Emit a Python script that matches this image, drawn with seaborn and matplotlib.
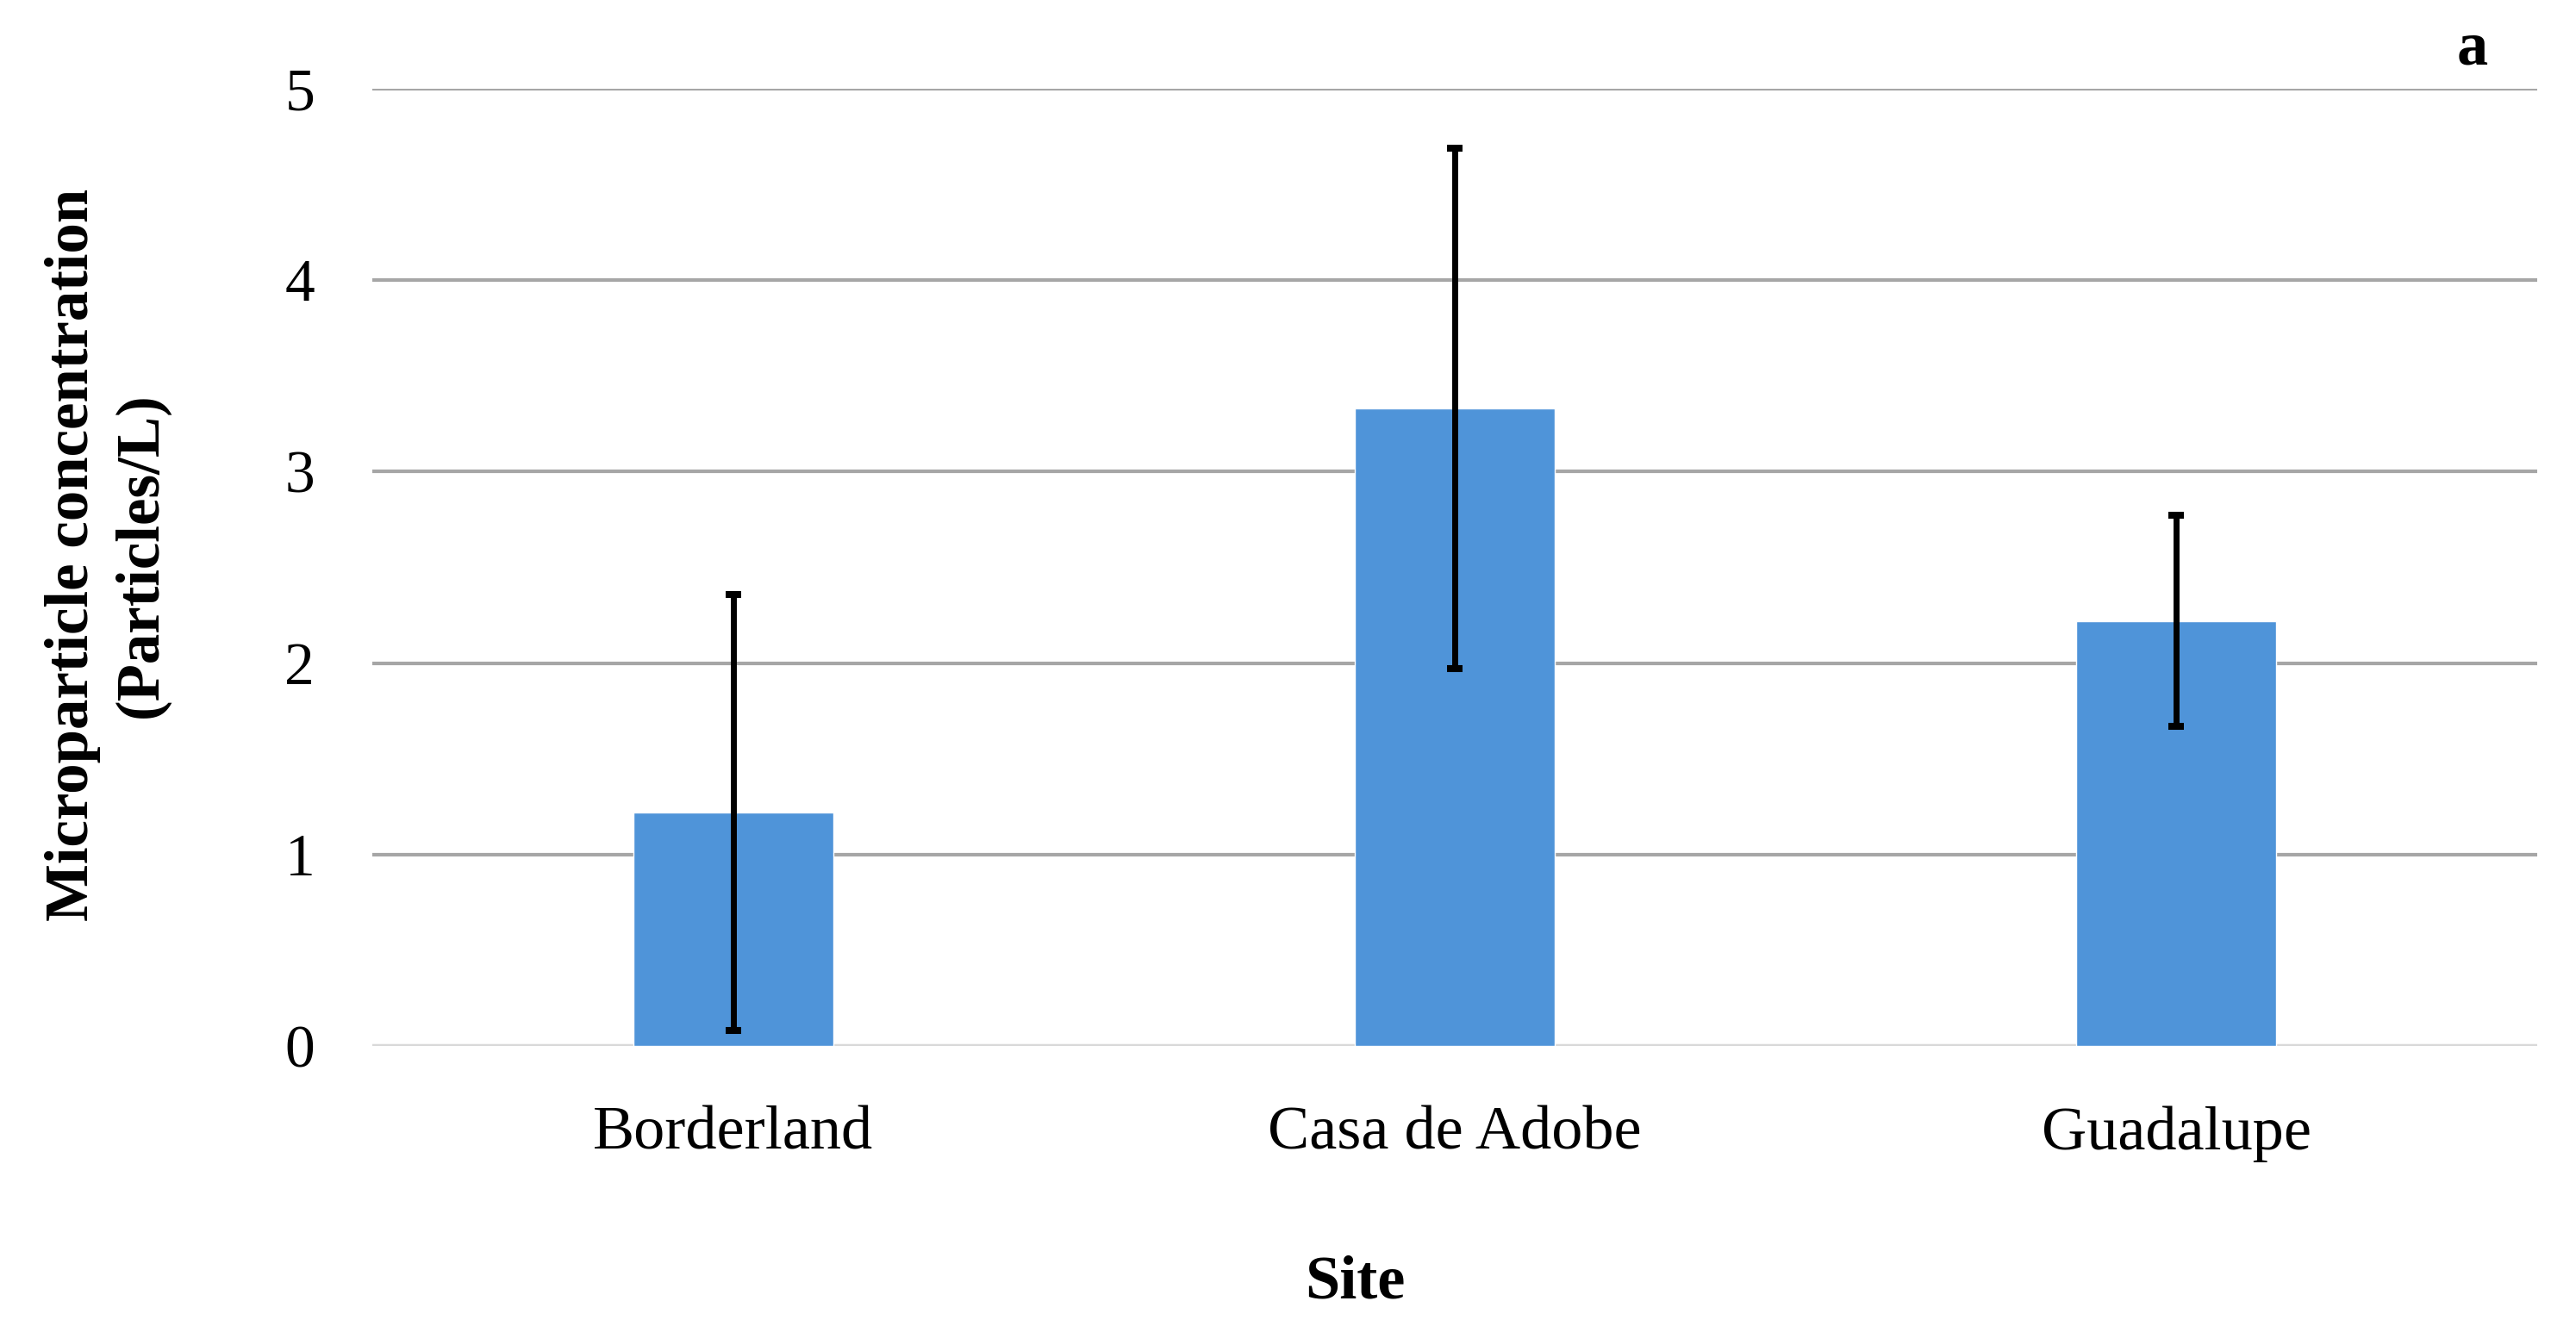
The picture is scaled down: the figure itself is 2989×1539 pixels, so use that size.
import matplotlib
matplotlib.use("Agg")
import matplotlib.pyplot as plt
import seaborn as sns
import pandas as pd

sns.set_theme(style="whitegrid")
plt.rcParams["font.family"] = ["Liberation Serif", "DejaVu Serif"]
plt.rcParams["text.color"] = "black"
plt.rcParams["xtick.color"] = "black"
plt.rcParams["ytick.color"] = "black"
plt.rcParams["axes.labelcolor"] = "black"

# values
sites = ["Borderland", "Casa de Adobe", "Guadalupe"]
conc_mean = [1.22, 3.33, 2.22]
conc_err = [1.14, 1.36, 0.55]
y_ticks = [0, 1, 2, 3, 4, 5]

df = pd.DataFrame({"site": sites, "conc": conc_mean})

fig = plt.figure(figsize=(29.89, 15.39), dpi=100)
ax = fig.add_axes([0.1445, 0.2112, 0.8404, 0.7219])

sns.barplot(data=df, x="site", y="conc", color="#4F94D9", saturation=1,
            width=0.277, errorbar=None, ax=ax, zorder=2)

# error bars (cap length = 2 * capsize)
ax.errorbar(range(len(sites)), conc_mean, yerr=conc_err, fmt="none",
            ecolor="black", elinewidth=5, capsize=6.5, capthick=5.8, zorder=3)

ax.set_ylim(0, 5)
ax.set_xlim(-0.5, len(sites) - 0.5)
ax.set_yticks(y_ticks)
ax.grid(axis="y", color="#A6A6A6", linewidth=3)
ax.grid(axis="x", visible=False)
ax.set_axisbelow(True)
ax.axhline(0, color="#D9D9D9", linewidth=3, zorder=1)
for s in ax.spines.values():
    s.set_visible(False)

ax.tick_params(axis="y", labelsize=50, pad=48, length=0)
ax.tick_params(axis="x", labelsize=52, pad=50, length=0)

ax.set_xlabel("Site", fontsize=52, fontweight="bold")
ax.xaxis.set_label_coords(0.454, -0.2637)
ax.xaxis.label.set_va("baseline")

ax.set_ylabel("Microparticle concentration\n(Particles/L)", fontsize=51,
              fontweight="bold", linespacing=1.3)
ax.yaxis.set_label_coords(-0.0935, 0.513)

fig.text(0.9599, 0.9513, "a", fontsize=52, fontweight="bold", ha="center", va="baseline")

fig.savefig("out.png", dpi=100, facecolor="white")
